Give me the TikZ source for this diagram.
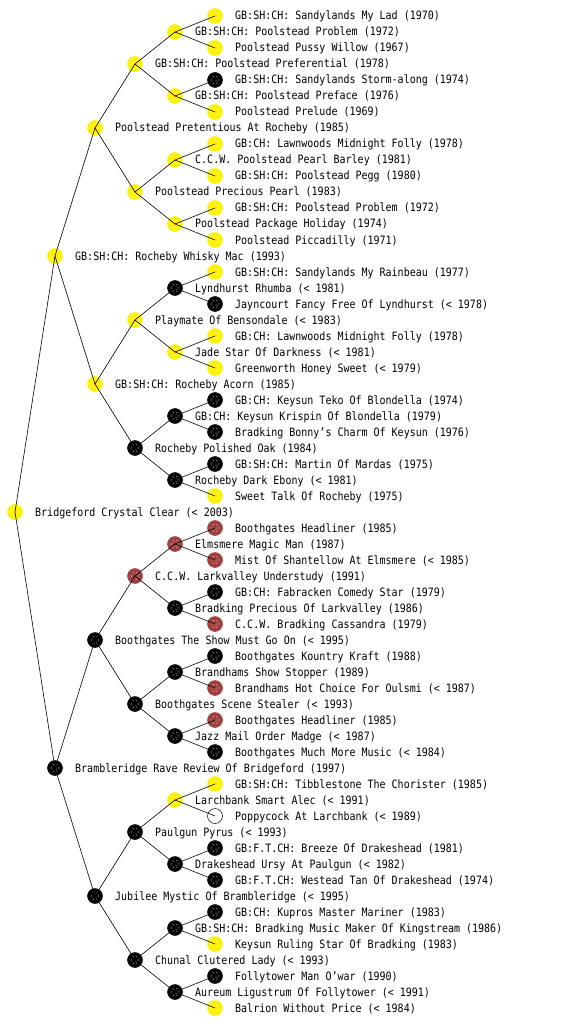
\documentclass[tikz,border=0pt]{standalone}
\usepackage{fontspec}
\newfontfamily\pedfont{DejaVu Sans Mono}
\definecolor{redbrown}{RGB}{160,64,64}
\tikzset{
  speckle/.style={path picture={
      \foreach \a in {0,60,...,300}
        {\fill[white] ([shift={(\a:3.6pt)}]path picture bounding box.center) circle (0.55pt);}
      \fill[white] ([shift={(1pt,-1pt)}]path picture bounding box.center) circle (0.5pt);}},
  dog/.style={circle, minimum size=15pt, inner sep=0pt, line width=0.5pt},
  ydog/.style={dog, fill=yellow, draw=yellow, speckle},
  bdog/.style={dog, fill=black, draw=black, speckle},
  rdog/.style={dog, fill=redbrown, draw=redbrown, speckle},
  wdog/.style={dog, fill=white, draw=black},
  lbl/.style={anchor=base west, inner sep=0pt, font=\pedfont\fontsize{10}{12}\selectfont},
  link/.style={draw=black, line width=0.6pt}
}
\newcommand\pn[4]{%
  \node[#3] (n#1) at ({15+40*#2},{16*#1}) {};
  \node[lbl] (t#1) at ({35+40*#2},{16*#1+4}) {\scalebox{1}[1.15]{#4}};}
\begin{document}
\begin{tikzpicture}[x=1pt,y=-1pt]
\fill[white] (0,0) rectangle (560,1024);
\useasboundingbox (0,0) rectangle (560,1024);
\pn{1}{5}{ydog}{GB:SH:CH: Sandylands My Lad (1970)}
\pn{2}{4}{ydog}{GB:SH:CH: Poolstead Problem (1972)}
\pn{3}{5}{ydog}{Poolstead Pussy Willow (1967)}
\pn{4}{3}{ydog}{GB:SH:CH: Poolstead Preferential (1978)}
\pn{5}{5}{bdog}{GB:SH:CH: Sandylands Storm-along (1974)}
\pn{6}{4}{ydog}{GB:SH:CH: Poolstead Preface (1976)}
\pn{7}{5}{ydog}{Poolstead Prelude (1969)}
\pn{8}{2}{ydog}{Poolstead Pretentious At Rocheby (1985)}
\pn{9}{5}{ydog}{GB:CH: Lawnwoods Midnight Folly (1978)}
\pn{10}{4}{ydog}{C.C.W. Poolstead Pearl Barley (1981)}
\pn{11}{5}{ydog}{GB:SH:CH: Poolstead Pegg (1980)}
\pn{12}{3}{ydog}{Poolstead Precious Pearl (1983)}
\pn{13}{5}{ydog}{GB:SH:CH: Poolstead Problem (1972)}
\pn{14}{4}{ydog}{Poolstead Package Holiday (1974)}
\pn{15}{5}{ydog}{Poolstead Piccadilly (1971)}
\pn{16}{1}{ydog}{GB:SH:CH: Rocheby Whisky Mac (1993)}
\pn{17}{5}{ydog}{GB:SH:CH: Sandylands My Rainbeau (1977)}
\pn{18}{4}{bdog}{Lyndhurst Rhumba (< 1981)}
\pn{19}{5}{bdog}{Jayncourt Fancy Free Of Lyndhurst (< 1978)}
\pn{20}{3}{ydog}{Playmate Of Bensondale (< 1983)}
\pn{21}{5}{ydog}{GB:CH: Lawnwoods Midnight Folly (1978)}
\pn{22}{4}{ydog}{Jade Star Of Darkness (< 1981)}
\pn{23}{5}{ydog}{Greenworth Honey Sweet (< 1979)}
\pn{24}{2}{ydog}{GB:SH:CH: Rocheby Acorn (1985)}
\pn{25}{5}{bdog}{GB:CH: Keysun Teko Of Blondella (1974)}
\pn{26}{4}{bdog}{GB:CH: Keysun Krispin Of Blondella (1979)}
\pn{27}{5}{bdog}{Bradking Bonny’s Charm Of Keysun (1976)}
\pn{28}{3}{bdog}{Rocheby Polished Oak (1984)}
\pn{29}{5}{bdog}{GB:SH:CH: Martin Of Mardas (1975)}
\pn{30}{4}{bdog}{Rocheby Dark Ebony (< 1981)}
\pn{31}{5}{ydog}{Sweet Talk Of Rocheby (1975)}
\pn{32}{0}{ydog}{Bridgeford Crystal Clear (< 2003)}
\pn{33}{5}{rdog}{Boothgates Headliner (1985)}
\pn{34}{4}{rdog}{Elmsmere Magic Man (1987)}
\pn{35}{5}{rdog}{Mist Of Shantellow At Elmsmere (< 1985)}
\pn{36}{3}{rdog}{C.C.W. Larkvalley Understudy (1991)}
\pn{37}{5}{bdog}{GB:CH: Fabracken Comedy Star (1979)}
\pn{38}{4}{bdog}{Bradking Precious Of Larkvalley (1986)}
\pn{39}{5}{rdog}{C.C.W. Bradking Cassandra (1979)}
\pn{40}{2}{bdog}{Boothgates The Show Must Go On (< 1995)}
\pn{41}{5}{bdog}{Boothgates Kountry Kraft (1988)}
\pn{42}{4}{bdog}{Brandhams Show Stopper (1989)}
\pn{43}{5}{rdog}{Brandhams Hot Choice For Oulsmi (< 1987)}
\pn{44}{3}{bdog}{Boothgates Scene Stealer (< 1993)}
\pn{45}{5}{rdog}{Boothgates Headliner (1985)}
\pn{46}{4}{bdog}{Jazz Mail Order Madge (< 1987)}
\pn{47}{5}{bdog}{Boothgates Much More Music (< 1984)}
\pn{48}{1}{bdog}{Brambleridge Rave Review Of Bridgeford (1997)}
\pn{49}{5}{ydog}{GB:SH:CH: Tibblestone The Chorister (1985)}
\pn{50}{4}{ydog}{Larchbank Smart Alec (< 1991)}
\pn{51}{5}{wdog}{Poppycock At Larchbank (< 1989)}
\pn{52}{3}{bdog}{Paulgun Pyrus (< 1993)}
\pn{53}{5}{bdog}{GB:F.T.CH: Breeze Of Drakeshead (1981)}
\pn{54}{4}{bdog}{Drakeshead Ursy At Paulgun (< 1982)}
\pn{55}{5}{bdog}{GB:F.T.CH: Westead Tan Of Drakeshead (1974)}
\pn{56}{2}{bdog}{Jubilee Mystic Of Brambleridge (< 1995)}
\pn{57}{5}{bdog}{GB:CH: Kupros Master Mariner (1983)}
\pn{58}{4}{bdog}{GB:SH:CH: Bradking Music Maker Of Kingstream (1986)}
\pn{59}{5}{ydog}{Keysun Ruling Star Of Bradking (1983)}
\pn{60}{3}{bdog}{Chunal Clutered Lady (< 1993)}
\pn{61}{5}{bdog}{Follytower Man O’war (1990)}
\pn{62}{4}{bdog}{Aureum Ligustrum Of Follytower (< 1991)}
\pn{63}{5}{ydog}{Balrion Without Price (< 1984)}
\foreach \p/\c in {32/16,32/48,
  16/8,16/24,48/40,48/56,
  8/4,8/12,24/20,24/28,40/36,40/44,56/52,56/60,
  4/2,4/6,12/10,12/14,20/18,20/22,28/26,28/30,
  36/34,36/38,44/42,44/46,52/50,52/54,60/58,60/62,
  2/1,2/3,6/5,6/7,10/9,10/11,14/13,14/15,
  18/17,18/19,22/21,22/23,26/25,26/27,30/29,30/31,
  34/33,34/35,38/37,38/39,42/41,42/43,46/45,46/47,
  50/49,50/51,54/53,54/55,58/57,58/59,62/61,62/63}
  {\draw[link] (n\p.center) -- (n\c.center);}
\end{tikzpicture}
\end{document}
